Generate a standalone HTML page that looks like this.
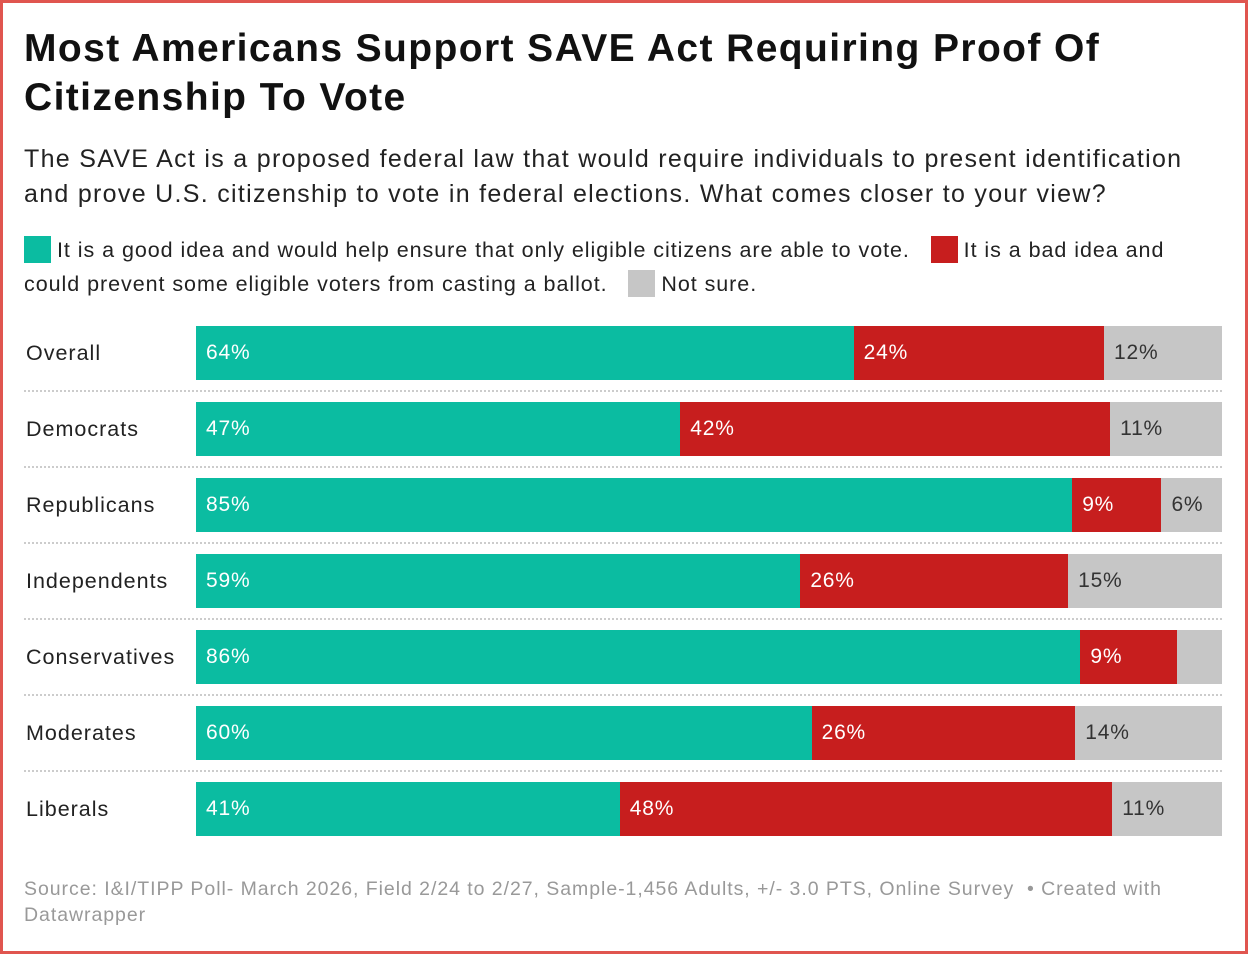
<!DOCTYPE html>
<html><head><meta charset="utf-8"><style>
body{margin:0;background:#fff;font-family:"Liberation Sans",sans-serif;}
#frame{position:absolute;left:0;top:0;width:1242px;height:948px;border:3px solid #e0554f;}
h1{position:absolute;left:24px;top:24px;margin:0;font-size:39px;line-height:49px;font-weight:bold;color:#111;width:1200px;letter-spacing:1.4px;white-space:nowrap}
.sub{position:absolute;left:24px;top:142px;font-size:25px;line-height:35px;color:#222;width:1220px;letter-spacing:1.3px;white-space:nowrap}
.leg{position:absolute;left:24px;top:233px;font-size:21.5px;line-height:34px;color:#222;width:1220px;letter-spacing:0.95px;white-space:nowrap}
.sw{display:inline-block;width:27px;height:27px;vertical-align:-6px;margin-right:6px}
.row{position:absolute;left:24px;width:1198px;height:54px}
.lab{position:absolute;left:2px;top:0;line-height:54px;font-size:21.5px;color:#222;letter-spacing:1px}
.seg{position:absolute;top:0;height:54px;line-height:54px;font-size:21px;box-sizing:border-box;padding-left:10px;white-space:nowrap;overflow:hidden;letter-spacing:0.8px}
.sep{position:absolute;left:24px;width:1198px;border-top:2px dotted #ccc}
.foot{position:absolute;left:24px;top:876px;font-size:19.5px;line-height:26px;color:#999;width:1200px;letter-spacing:0.95px;white-space:nowrap}
</style></head><body>
<div id="frame"></div>
<h1>Most Americans Support SAVE Act Requiring Proof Of<br>Citizenship To Vote</h1>
<div class="sub">The SAVE Act is a proposed federal law that would require individuals to present identification<br>and prove U.S. citizenship to vote in federal elections. What comes closer to your view?</div>
<div class="leg"><span><span class="sw" style="background:#0bbca1"></span>It is a good idea and would help ensure that only eligible citizens are able to vote.</span>&nbsp;&nbsp; <span><span class="sw" style="background:#c71e1e"></span>It is a bad idea and<br>could prevent some eligible voters from casting a ballot.</span>&nbsp;&nbsp; <span><span class="sw" style="background:#c6c6c6"></span>Not sure.</span></div>
<div id="chart"></div>
<div class="foot">Source: I&amp;I/TIPP Poll- March 2026, Field 2/24 to 2/27, Sample-1,456 Adults, +/- 3.0 PTS, Online Survey &nbsp;• Created with<br>Datawrapper</div>
<script>
const categories=["Overall","Democrats","Republicans","Independents","Conservatives","Moderates","Liberals"];
const goodVals=[64.1,47.2,85.4,58.9,86.2,60.0,41.3];
const badVals=[24.4,41.9,8.7,26.1,9.4,25.7,48.0];
const notSureVals=[11.5,10.9,5.9,15.0,4.4,14.3,10.7];
const chart=document.getElementById('chart');
const x0=196,x1=1222,top0=326,pitch=76;
function xs(v,total){return v/total*(x1-x0);}
categories.forEach((c,i)=>{
  const y=top0+i*pitch;
  if(i>0){const s=document.createElement('div');s.className='sep';s.style.top=(y-12)+'px';
    
    
    chart.appendChild(s);}
  const lab=document.createElement('div');lab.className='row';lab.style.top=y+'px';lab.style.left='24px';
  lab.innerHTML='<div class="lab">'+c+'</div>';
  
  
  chart.appendChild(lab);
  const total=goodVals[i]+badVals[i]+notSureVals[i];
  let x=x0;
  [[goodVals[i],'#0bbca1','#fff','good'],[badVals[i],'#c71e1e','#fff','bad'],[notSureVals[i],'#c6c6c6','#333','not-sure']].forEach(([v,col,tc,k])=>{
    const w=xs(v,total);
    const s=document.createElement('div');s.className='seg';
    s.style.cssText+='left:'+x+'px;top:'+y+'px;width:'+w+'px;background:'+col+';color:'+tc;
    s.style.position='absolute';
    if(w>50)s.textContent=Math.round(v)+'%';
    
    
    chart.appendChild(s);x+=w;
  });
});
</script>
</body></html>
